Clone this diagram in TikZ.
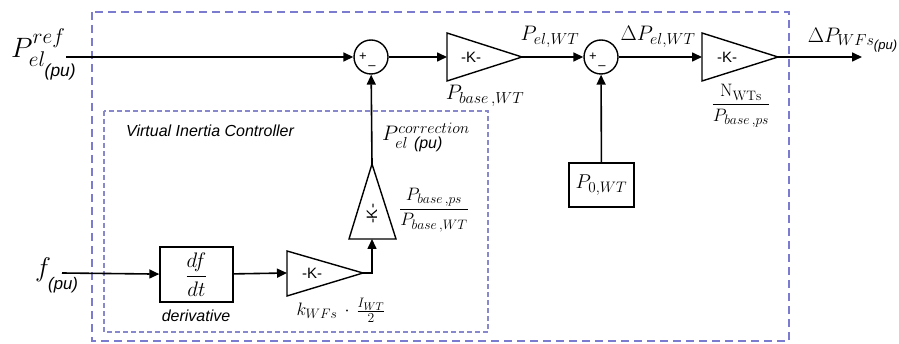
\RequirePackage{fix-cm}
\documentclass[tikz,border=0pt]{standalone}
\usepackage{amsmath}
\usepackage{fontspec}
\setsansfont{Liberation Sans}
\usetikzlibrary{arrows.meta}

\definecolor{frameblue}{HTML}{7B7BD0}
\definecolor{innerblue}{HTML}{8888CC}

% slightly larger indices than the default
\renewcommand{\defaultscriptratio}{.76}
\renewcommand{\defaultscriptscriptratio}{.62}

% per-unit tag in sans italic, optionally dropped further down
\newcommand{\putag}{\text{\sffamily\itshape (pu)}}
\newcommand{\putaglow}[1]{\text{\raisebox{-#1}{\sffamily\itshape (pu)}}}
\newcommand{\fs}[1]{\fontsize{#1}{#1}\selectfont}

\begin{document}
\begin{tikzpicture}[x=1pt,y=-1pt,
  wire/.style={line width=1.6pt},
  arr/.style={wire,-{Triangle[length=10pt,width=9pt]}},
  block/.style={draw,line width=1.4pt,rectangle,inner sep=0pt},
  sumnode/.style={draw,circle,line width=1.4pt,minimum size=34pt,inner sep=0pt},
  gain/.style={line width=1.4pt,line join=miter},
  ktext/.style={font=\sffamily\fs{15},inner sep=0pt},
  sign/.style={font=\sffamily\fs{13},inner sep=0pt},
  lbl/.style={inner sep=0pt},
  caption/.style={font=\sffamily\itshape\fs{16},inner sep=0pt},
]

\useasboundingbox (0,0) rectangle (899,344);

% dashed frames: whole wind farm and the virtual inertia loop
\draw[frameblue, line width=2pt, dash pattern=on 8pt off 5pt] (92,12) rectangle (789,341);
\draw[innerblue, line width=1.4pt, dash pattern=on 5pt off 3pt] (104,111) rectangle (488,332);

% summing junctions
\node[sumnode] (s1) at (371,57) {};
\node[sign] (s1p) at (363,57) {+};
\node[sign] (s1m) at (372,68) {\textendash};
\node[sumnode] (s2) at (601,57) {};
\node[sign] (s2p) at (593,57) {+};
\node[sign] (s2m) at (602,68) {\textendash};

% gain 1: P_base,WT
\draw[gain] (447,33) -- (522,57) -- (447,81) -- cycle;
\coordinate (g1in) at (447,57);
\coordinate (g1out) at (522,57);
\node[ktext] (g1k) at (471,57) {-K-};

% gain 2: N_WTs / P_base,ps
\draw[gain] (702,33) -- (778,57) -- (702,81) -- cycle;
\coordinate (g2in) at (702,57);
\coordinate (g2out) at (778,57);
\node[ktext] (g2k) at (727,57) {-K-};

% gain 3: k_WFs * I_WT / 2
\draw[gain] (287,251) -- (363,273) -- (287,296) -- cycle;
\coordinate (g3in) at (287,273);
\coordinate (g3out) at (363,273);
\node[ktext] (g3k) at (312,273) {-K-};

% gain 4 (pointing up): P_base,ps / P_base,WT
\draw[gain] (349,239) -- (372,164) -- (396,239) -- cycle;
\coordinate (g4in) at (372,239);
\coordinate (g4out) at (372,164);
\node[ktext, rotate=90] (g4k) at (372,214) {-K-};

% blocks
\node[block, minimum width=73pt, minimum height=55pt, font=\fs{21}] (der) at (196.5,274.5) {$\dfrac{df}{dt}$};
\node[block, minimum width=65pt, minimum height=44pt, font=\fs{20}] (p0) at (601.5,185) {$P_{0,WT}$};

% free ends
\coordinate (pin) at (66,57);
\coordinate (fin) at (62,273);
\coordinate (out) at (862,57);

% signal flow
\draw[arr] (pin) -- (s1);
\draw[arr] (s1) -- (g1in);
\draw[arr] (g1out) -- (s2);
\draw[arr] (s2) -- (g2in);
\draw[arr] (g2out) -- (out);
\draw[arr] (p0) -- (s2);
\draw[arr] (fin) -- (der);
\draw[arr] (der) -- (g3in);
\draw[arr] (g3out) -| (g4in);
\draw[arr] (g4out) -- (s1);

% labels
\node[lbl, font=\fs{28}, anchor=north west] (lref) at (11,29) {$P^{ref}_{el_{\putaglow{6pt}}}$};
\node[lbl, font=\fs{27}, anchor=north west] (lf) at (35,258) {$f_{\scriptscriptstyle\putaglow{9pt}}$};
\node[lbl, font=\fs{21}] (lpel) at (550,37) {$P_{el,WT}$};
\node[lbl, font=\fs{21}] (lpb) at (485,96) {$P_{base\,,WT}$};
\node[lbl, font=\fs{21}] (ldp) at (658,37) {$\Delta P_{el,WT}$};
\node[lbl, font=\fs{18}] (lnw) at (741,106) {$\dfrac{\mathrm{N}_{\mathrm{WTs}}}{P_{base\,,ps}}$};
\node[lbl, font=\fs{21}] (lout) at (853,40) {$\Delta P_{WFs_{\putag}}$};
\node[lbl, font=\fs{21}] (lcorr) at (426,137) {$P^{correction}_{el\ \putag}$};
\node[lbl, font=\fs{18}] (lbase) at (434,210) {$\dfrac{P_{base\,,ps}}{P_{base\,,WT}}$};
\node[lbl, font=\fs{18}] (lk) at (341,310) {$k_{WFs}\,\cdot\,\frac{I_{WT}}{2}$};
\node[caption, anchor=west] (lvic) at (126,131) {Virtual Inertia Controller};
\node[caption] (lder) at (196,316) {derivative};

\end{tikzpicture}
\end{document}
